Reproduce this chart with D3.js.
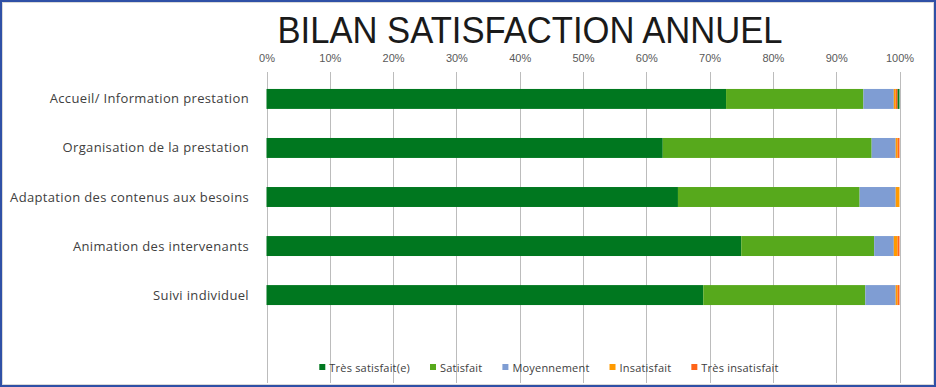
<!DOCTYPE html>
<html>
<head>
<meta charset="utf-8">
<script src="https://cdn.jsdelivr.net/npm/d3@7"></script>
<style>
  body { margin: 0; background: #fff; }
  svg { display: block; }
</style>
</head>
<body>
<script>
let w = 936;
let h = 387;

// Data (shares)
let categories = ["Accueil/ Information prestation", "Organisation de la prestation",
  "Adaptation des contenus aux besoins", "Animation des intervenants", "Suivi individuel"];
let tresSatisfait = [0.726, 0.626, 0.650, 0.750, 0.690];
let satisfait     = [0.217, 0.330, 0.287, 0.210, 0.256];
let moyennement   = [0.048, 0.038, 0.057, 0.031, 0.048];
let insatisfait   = [0.003, 0.003, 0.006, 0.006, 0.003];
let tresInsat     = [0.003, 0.003, 0.000, 0.003, 0.003];
let sansReponse   = [0.003, 0.000, 0.000, 0.000, 0.000]; // no legend entry
let seriesNames = ["Très satisfait(e)", "Satisfait", "Moyennement", "Insatisfait", "Très insatisfait", "Sans réponse"];
let legendNames = seriesNames.slice(0, 5);
let colors = ["#00771f", "#57a91c", "#7f9dd3", "#ff9a00", "#ff6418", "#00771f"];
let xTicks = [0, 0.1, 0.2, 0.3, 0.4, 0.5, 0.6, 0.7, 0.8, 0.9, 1];

let table = categories.map((c, i) => ({
  cat: c,
  "Très satisfait(e)": tresSatisfait[i],
  "Satisfait": satisfait[i],
  "Moyennement": moyennement[i],
  "Insatisfait": insatisfait[i],
  "Très insatisfait": tresInsat[i],
  "Sans réponse": sansReponse[i]
}));

let stacked = d3.stack().keys(seriesNames).offset(d3.stackOffsetExpand)(table);

// Scales
let xScale = d3.scaleLinear().domain([0, 1]).range([266.5, 899.5]);
let yScale = d3.scaleBand()
  .domain(categories)
  .range([74, 320])
  .paddingInner(0.593)
  .paddingOuter(0.305);
let color = d3.scaleOrdinal().domain(seriesNames).range(colors);

let svg = d3.select("body").append("svg")
  .attr("width", w)
  .attr("height", h)
  .style("font-family", "'Open Sans', 'Noto Sans', sans-serif");

// Frame
svg.append("rect")
  .attr("x", 2.5).attr("y", 2.5).attr("width", w - 5).attr("height", h - 5)
  .attr("fill", "none").attr("stroke", "#d9d9d9");
svg.append("rect")
  .attr("x", 1).attr("y", 1).attr("width", w - 2).attr("height", h - 2)
  .attr("fill", "none").attr("stroke", "#2f50a6").attr("stroke-width", 2);

// Title
svg.append("text")
  .attr("x", 530).attr("y", 43)
  .attr("text-anchor", "middle")
  .attr("font-family", "'Liberation Sans', sans-serif")
  .attr("font-size", "37px")
  .attr("fill", "#1a1a1a")
  .attr("textLength", 505)
  .attr("lengthAdjust", "spacingAndGlyphs")
  .text("BILAN SATISFACTION ANNUEL");

// Gridlines
svg.append("g").selectAll("line")
  .data(xTicks)
  .enter()
  .append("line")
  .attr("x1", d => Math.round(xScale(d)) + 0.5)
  .attr("x2", d => Math.round(xScale(d)) + 0.5)
  .attr("y1", 72)
  .attr("y2", 383)
  .attr("stroke", "#bcbcbc");

// Top axis
let xAxis = d3.axisTop(xScale)
  .tickValues(xTicks)
  .tickFormat(d3.format(".0%"))
  .tickSize(0)
  .tickPadding(10.5);
let gx = svg.append("g")
  .attr("transform", "translate(0,72)")
  .call(xAxis);
gx.select(".domain").remove();
gx.selectAll("text")
  .attr("font-size", "11px")
  .attr("font-family", "'Liberation Sans', sans-serif")
  .attr("fill", "#595959");

// Bars
svg.append("g").selectAll("g")
  .data(stacked)
  .enter()
  .append("g")
  .attr("fill", d => color(d.key))
  .selectAll("rect")
  .data(d => d)
  .enter()
  .append("rect")
  .attr("x", d => xScale(d[0]))
  .attr("y", d => yScale(d.data.cat))
  .attr("width", d => xScale(d[1]) - xScale(d[0]))
  .attr("height", yScale.bandwidth());

// Category labels
svg.append("g").selectAll("text")
  .data(categories)
  .enter()
  .append("text")
  .attr("x", 249)
  .attr("y", d => yScale(d) + yScale.bandwidth() / 2 + 4.5)
  .attr("text-anchor", "end")
  .attr("font-size", "13px")
  .attr("letter-spacing", "0.35px")
  .attr("fill", "#404040")
  .text(d => d);

// Legend
let legend = svg.append("g");
let items = legend.selectAll("g")
  .data(legendNames)
  .enter()
  .append("g");
items.append("rect")
  .attr("width", 6).attr("height", 6)
  .attr("y", 364)
  .attr("fill", d => color(d));
items.append("text")
  .attr("x", 10)
  .attr("y", 372)
  .attr("font-size", "11px")
  .attr("letter-spacing", "0.2px")
  .attr("fill", "#404040")
  .text(d => d);

let pos = 0;
let offsets = [];
items.each(function() {
  offsets.push(pos);
  let tw = d3.select(this).select("text").node().getComputedTextLength();
  pos += 10 + tw + 20;
});
let total = pos - 20;
let start = 549 - total / 2;
items.attr("transform", (d, i) => "translate(" + (start + offsets[i]) + ",0)");
</script>
</body>
</html>
